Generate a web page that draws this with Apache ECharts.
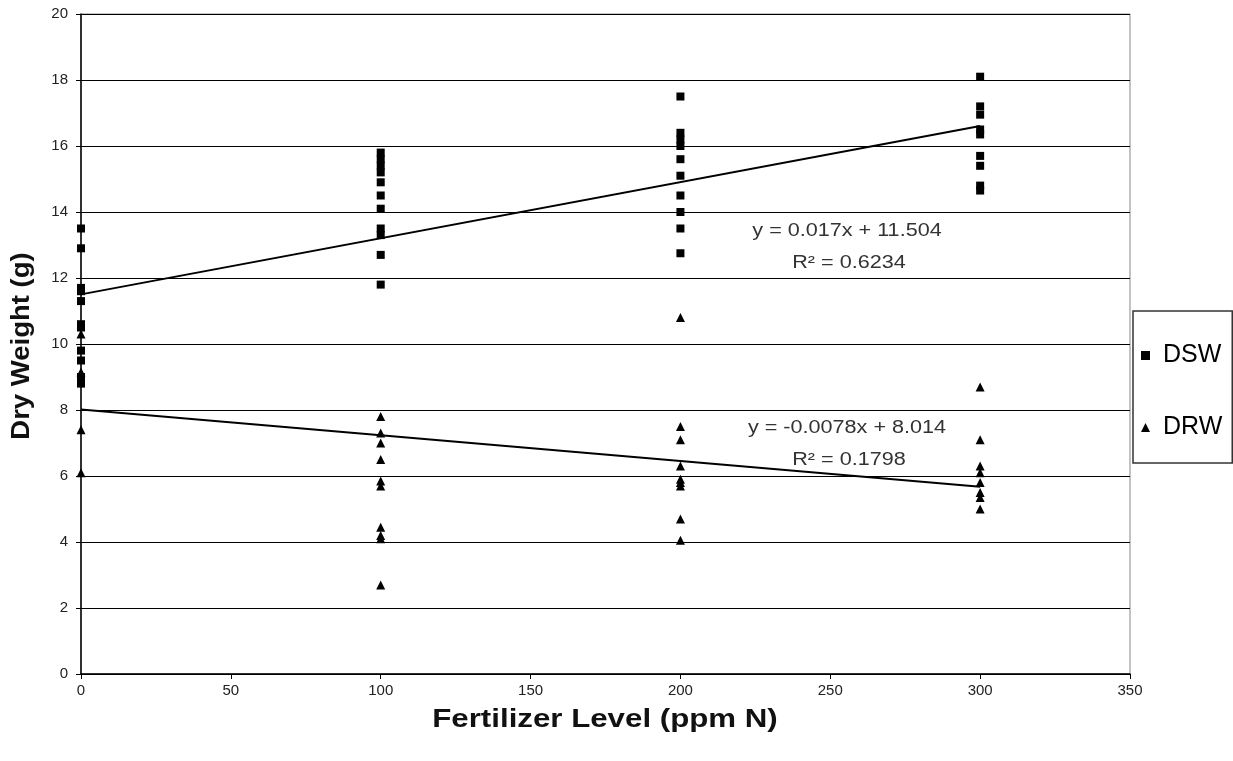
<!DOCTYPE html>
<html><head><meta charset="utf-8">
<script src="https://cdn.jsdelivr.net/npm/echarts@6/dist/echarts.min.js"></script>
<style>html,body{margin:0;padding:0;background:#fff}#c{width:1233px;height:761px}</style>
</head><body><div id="c"></div>
<script>
const xTicks = [0, 50, 100, 150, 200, 250, 300, 350];
const dswX0 = [13.5, 12.9, 11.7, 11.6, 11.3, 10.6, 10.5, 9.8, 9.5, 9.0, 8.8];
const dswX100 = [15.8, 15.6, 15.4, 15.2, 14.9, 14.5, 14.1, 13.5, 13.3, 12.7, 11.8];
const dswX200 = [17.5, 16.4, 16.2, 16.0, 15.6, 15.1, 14.5, 14.0, 13.5, 12.75];
const dswX300 = [18.1, 17.2, 16.95, 16.5, 16.35, 15.7, 15.4, 14.8, 14.65];
const drwX0 = [10.3, 9.15, 7.4, 6.1];
const drwX100 = [7.8, 7.3, 7.0, 6.5, 5.85, 5.7, 4.45, 4.2, 4.1, 2.7];
const drwX200 = [10.8, 7.5, 7.1, 6.3, 5.9, 5.8, 5.7, 4.7, 4.05];
const drwX300 = [8.7, 7.1, 6.3, 6.1, 5.8, 5.5, 5.35, 5.0];
const dswTrend = [[0, 11.504], [300, 16.604]];
const drwTrend = [[0, 8.014], [300, 5.674]];
const dswEq = ['y = 0.017x + 11.504', 'R² = 0.6234'];
const drwEq = ['y = -0.0078x + 8.014', 'R² = 0.1798'];
const xTitle = 'Fertilizer Level (ppm N)';
const yTitle = 'Dry Weight (g)';

function pts(x, arr) { return arr.map(v => [x, v]); }
const dswData = [].concat(pts(0, dswX0), pts(100, dswX100), pts(200, dswX200), pts(300, dswX300));
const drwData = [].concat(pts(0, drwX0), pts(100, drwX100), pts(200, drwX200), pts(300, drwX300));

const chart = echarts.init(document.getElementById('c'));
const font = 'Liberation Sans, Arial, sans-serif';
function eqText(txt, x, y) {
  return { type: 'text', x: x, y: y, scaleX: 1.2, style: { text: txt, fontFamily: font, fontSize: 18, fill: '#333', align: 'center', verticalAlign: 'middle' } };
}
chart.setOption({
  animation: false,
  backgroundColor: '#fff',
  grid: { left: 81, right: 103, top: 14, bottom: 87, show: true, borderColor: '#888', borderWidth: 1 },
  xAxis: {
    type: 'value', min: 0, max: 350, interval: 50,
    axisLine: { lineStyle: { color: '#000', width: 1.5 } },
    axisTick: { show: true, inside: false, length: 5, lineStyle: { color: '#000' } },
    axisLabel: { fontFamily: font, fontSize: 15, color: '#222', margin: 9 },
    splitLine: { show: false }
  },
  yAxis: {
    type: 'value', min: 0, max: 20, interval: 2,
    axisLine: { show: true, lineStyle: { color: '#000', width: 1.5 } },
    axisTick: { show: true, length: 5, lineStyle: { color: '#000' } },
    axisLabel: { fontFamily: font, fontSize: 15, color: '#222', margin: 13 },
    splitLine: { show: true, lineStyle: { color: '#000', width: 1.2 } }
  },
  legend: {
    orient: 'vertical', left: 1133, top: 311,
    itemGap: 47, padding: [32, 10, 23, 8],
    borderColor: '#333', borderWidth: 1.5,
    itemWidth: 9, itemHeight: 9,
    textStyle: { fontFamily: font, fontSize: 25, color: '#000', padding: [0, 0, 0, 8] },
    data: [{ name: 'DSW', icon: 'rect' }, { name: 'DRW', icon: 'triangle' }]
  },
  series: [
    { name: 'DSW', type: 'scatter', symbol: 'rect', symbolSize: 8, itemStyle: { color: '#000', opacity: 1 }, data: dswData, z: 5 },
    { name: 'DRW', type: 'scatter', symbol: 'triangle', symbolSize: 9, itemStyle: { color: '#000', opacity: 1 }, data: drwData, z: 5 },
    { name: 'DSW trend', type: 'line', data: dswTrend, symbol: 'none', lineStyle: { color: '#000', width: 2 }, z: 4 },
    { name: 'DRW trend', type: 'line', data: drwTrend, symbol: 'none', lineStyle: { color: '#000', width: 2 }, z: 4 }
  ],
  graphic: [
    eqText(dswEq[0], 847, 231),
    eqText(dswEq[1], 849, 263),
    eqText(drwEq[0], 847, 428),
    eqText(drwEq[1], 849, 460),
    { type: 'text', x: 605, y: 720, scaleX: 1.25, style: { text: xTitle, fontFamily: font, fontSize: 25, fontWeight: 'bold', fill: '#111', align: 'center', verticalAlign: 'middle' } },
    { type: 'text', x: 22, y: 346, rotation: Math.PI / 2, scaleX: 1.1, style: { text: yTitle, fontFamily: font, fontSize: 25, fontWeight: 'bold', fill: '#111', align: 'center', verticalAlign: 'middle' } }
  ]
});
</script>
</body></html>
